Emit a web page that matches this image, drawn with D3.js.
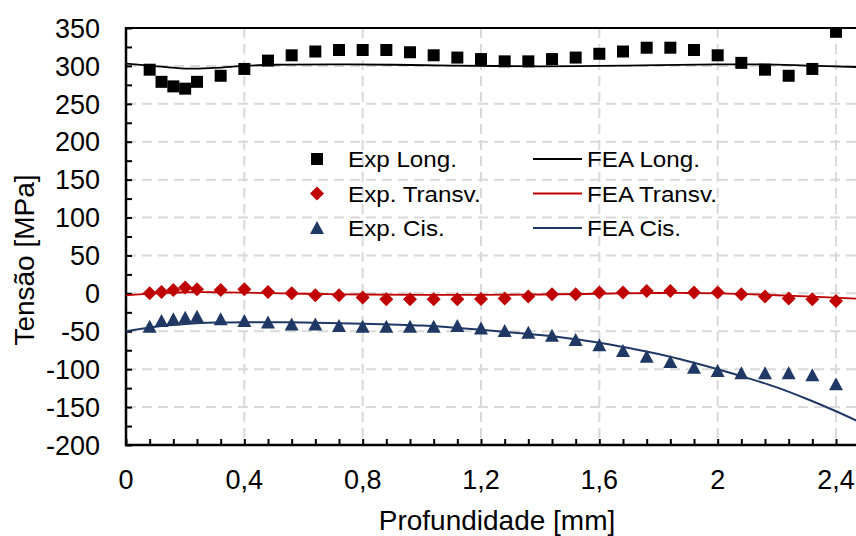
<!DOCTYPE html>
<html><head><meta charset="utf-8">
<script src="https://cdn.jsdelivr.net/npm/d3@7"></script>
<style>body{margin:0;background:#fff} text{font-family:"Liberation Sans",Arial,sans-serif;fill:#000}</style>
</head><body><svg id="c" width="856" height="536"></svg>
<script>
// ---- data ----
const depth = [0.08,0.12,0.16,0.2,0.24,0.32,0.4,0.48,0.56,0.64,0.72,0.8,0.88,0.96,1.04,1.12,1.2,1.28,1.36,1.44,1.52,1.6,1.68,1.76,1.84,1.92,2.0,2.08,2.16,2.24,2.32,2.4];
const expLong = [295,279,273,270,279,287,296,307,314,319,321,321,321,318,314,311,309,306,306,309,311,316,319,324,324,321,314,304,295,287,296,345];
const expTransv = [0.2,1.9,4.5,7.7,5.4,4.5,5.4,1.9,0.2,-2.5,-2.5,-5.5,-7.8,-7.8,-7.8,-7.8,-7.5,-6.8,-4.2,-1.2,-1.2,1.1,1.1,3.2,3.2,1.1,1.1,-1.2,-4.2,-6.8,-7.8,-10];
const expCis = [-44,-36.5,-34,-32,-31,-34,-36.5,-38.5,-41,-41,-43,-44,-44,-44,-44,-43,-46.5,-49.5,-52,-56,-61.5,-68.5,-76,-83.5,-90.5,-98,-102.5,-105.5,-105.5,-105.5,-108,-120];

const feaLongX = [0,0.08,0.2,0.3,0.4,0.5,0.7,0.9,1.1,1.4,1.6,1.8,2.0,2.15,2.3,2.47];
const feaLongY = [303,300.5,296.5,297.5,300,301.5,302,301.5,300.5,299.5,300,301,302,302,300.5,298.5];
const feaTransvX = [0,0.1,0.2,0.3,0.4,0.6,0.8,1.0,1.2,1.4,1.6,1.8,1.9,2.0,2.1,2.2,2.3,2.47];
const feaTransvY = [-2.5,0,1.5,1.5,1,-0.5,-1.5,-2,-2,-1.5,-0.5,0.5,0.5,0,-1,-2.5,-4,-7];
const feaCisX = [0,0.1,0.2,0.3,0.4,0.6,0.8,1.0,1.1,1.2,1.3,1.4,1.5,1.6,1.7,1.8,1.9,2.0,2.1,2.2,2.3,2.4,2.47];
const feaCisY = [-50,-44,-40.5,-38.5,-38,-38.5,-40,-42.5,-45,-48,-51.5,-55,-59.5,-65,-72,-80,-89.5,-100,-111.5,-124,-139,-155.5,-168];

const xTickLabels = ["0","0,4","0,8","1,2","1,6","2","2,4"];
const xTickValues = [0,0.4,0.8,1.2,1.6,2.0,2.4];
const yTickValues = [-200,-150,-100,-50,0,50,100,150,200,250,300,350];
const legendExp = ["Exp Long.","Exp. Transv.","Exp. Cis."];
const legendFea = ["FEA Long.","FEA Transv.","FEA Cis."];
const colors = ["#000000","#C00000","#1F3864"];

// ---- layout ----
const svg = d3.select("#c");
const L = 126, R = 856, T = 28, B = 445;
const x = d3.scaleLinear().domain([0,2.4]).range([L,836]);
const y = d3.scaleLinear().domain([-200,350]).range([B,T]);

svg.append("defs").append("clipPath").attr("id","clip")
  .append("rect").attr("x",L).attr("y",T-1).attr("width",R-L).attr("height",B-T+2);

// grid
const grid = svg.append("g").attr("stroke","#d9d9d9").attr("stroke-width",2).attr("stroke-dasharray","10,6");
yTickValues.filter(v=>v>-200 && v<350).forEach(v=>{
  grid.append("line").attr("x1",L).attr("x2",R).attr("y1",y(v)).attr("y2",y(v));
});
xTickValues.filter(v=>v>0).forEach(v=>{
  grid.append("line").attr("x1",x(v)).attr("x2",x(v)).attr("y1",T).attr("y2",B);
});

// axes
const yAxis = d3.axisRight(y).tickValues(d3.range(-200,351,25)).tickSize(6).tickFormat("");
const ga = svg.append("g").attr("transform",`translate(${L},0)`).call(yAxis);
ga.select(".domain").remove();
ga.selectAll("line").attr("stroke","#000").attr("stroke-width",2);

const xAxis = d3.axisTop(x).tickValues(d3.range(0,2.401,0.08)).tickSize(6).tickFormat("");
const gx = svg.append("g").attr("transform",`translate(0,${B})`).call(xAxis);
gx.select(".domain").remove();
gx.selectAll("line").attr("stroke","#000").attr("stroke-width",2);

svg.append("line").attr("x1",L).attr("x2",R).attr("y1",T).attr("y2",T).attr("stroke","#000").attr("stroke-width",2);
svg.append("line").attr("x1",L).attr("x2",L).attr("y1",T-1).attr("y2",B+1).attr("stroke","#000").attr("stroke-width",2.5);
svg.append("line").attr("x1",L-1).attr("x2",R).attr("y1",B).attr("y2",B).attr("stroke","#000").attr("stroke-width",2.5);

// tick labels
svg.append("g").selectAll("text").data(yTickValues).join("text")
  .attr("x",100).attr("y",d=>y(d)).attr("dy","0.36em").attr("text-anchor","end")
  .attr("font-size",27).text(d=>d);
svg.append("g").selectAll("text").data(xTickValues).join("text")
  .attr("x",d=>x(d)).attr("y",489).attr("text-anchor","middle")
  .attr("font-size",27).text((d,i)=>xTickLabels[i]);

svg.append("text").attr("x",497).attr("y",530).attr("text-anchor","middle").attr("font-size",28).text("Profundidade [mm]");
svg.append("text").attr("transform","translate(34,260) rotate(-90)").attr("text-anchor","middle").attr("font-size",28).text("Tensão [MPa]");

// FEA lines
const plot = svg.append("g").attr("clip-path","url(#clip)");
const line = d3.line().x(d=>x(d[0])).y(d=>y(d[1])).curve(d3.curveCatmullRom.alpha(0.5));
[[feaLongX,feaLongY],[feaTransvX,feaTransvY],[feaCisX,feaCisY]].forEach((s,i)=>{
  plot.append("path").datum(s[0].map((v,j)=>[v,s[1][j]])).attr("d",line)
    .attr("fill","none").attr("stroke",colors[i]).attr("stroke-width",i===2?2:1.8);
});

// markers
const sq = "M-6,-6H6V6H-6Z";
const dia = "M0,-7L7,0L0,7L-7,0Z";
const tri = "M0,-7L7,6L-7,6Z";
const shapes = [sq,dia,tri];
[expLong,expTransv,expCis].forEach((vals,i)=>{
  plot.append("g").selectAll("path").data(vals).join("path")
    .attr("transform",(d,j)=>`translate(${x(depth[j])},${y(d)})`)
    .attr("d",shapes[i]).attr("fill",colors[i]);
});

// legend
const rowY = [159,193.5,228];
rowY.forEach((ry,i)=>{
  svg.append("path").attr("transform",`translate(317,${ry})`).attr("d",shapes[i]).attr("fill",colors[i]);
  svg.append("text").attr("transform",`translate(348,${ry+8}) scale(1.1,1)`).attr("font-size",22).text(legendExp[i]);
  svg.append("line").attr("x1",533).attr("x2",582).attr("y1",ry).attr("y2",ry).attr("stroke",colors[i]).attr("stroke-width",1.8);
  svg.append("text").attr("transform",`translate(587,${ry+8}) scale(1.1,1)`).attr("font-size",22).text(legendFea[i]);
});
</script></body></html>
